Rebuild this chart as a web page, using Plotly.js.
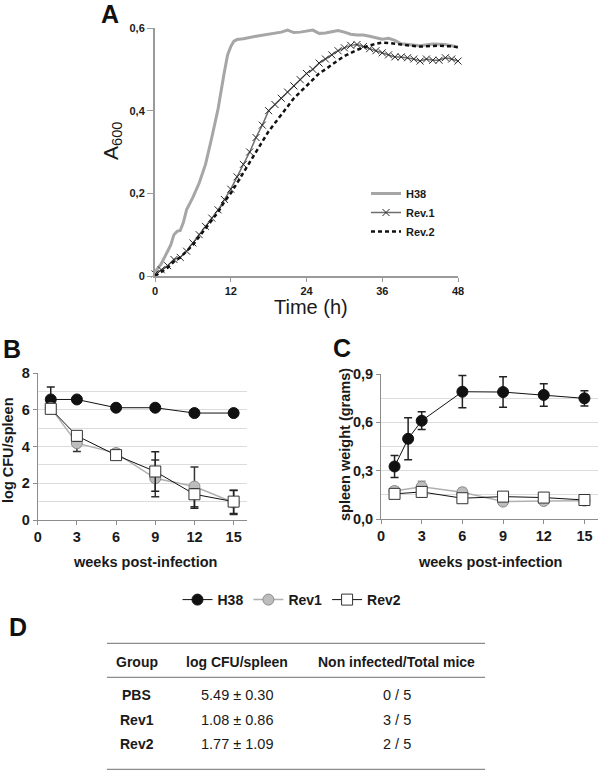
<!DOCTYPE html>
<html><head><meta charset="utf-8">
<script src="https://cdn.plot.ly/plotly-3.0.1.min.js"></script>
<style>html,body{margin:0;padding:0;background:#fff}#chart{width:600px;height:780px}</style>
</head><body><div id="chart"></div>
<script>
// ---------- Panel A : growth curves ----------
const timeH38 = [0,1,2,2.5,3,3.5,4,4.5,5,6,7,8,9,10,11,11.5,12,12.5,13,14,16,18,20,21,22,23,24,25,26,27,28,29,30,31,32,33,34,35,36,37,38,39,40,42,44,46,48];
const a600H38 = [0.01,0.03,0.06,0.075,0.10,0.108,0.11,0.13,0.16,0.19,0.225,0.27,0.335,0.405,0.495,0.535,0.555,0.568,0.572,0.574,0.58,0.585,0.59,0.595,0.589,0.59,0.592,0.595,0.587,0.588,0.591,0.594,0.59,0.585,0.583,0.583,0.58,0.576,0.573,0.575,0.57,0.562,0.56,0.557,0.561,0.56,0.554];
const timeRev = [0,1,2,3,4,5,6,7,8,9,10,11,12,13,14,15,16,17,18,19,20,21,22,23,24,25,26,27,28,29,30,31,32,33,34,35,36,37,38,39,40,41,42,43,44,45,46,47,48];
const a600Rev1 = [0.005,0.015,0.025,0.04,0.045,0.06,0.08,0.10,0.12,0.14,0.16,0.185,0.21,0.24,0.27,0.30,0.335,0.365,0.40,0.415,0.43,0.445,0.46,0.475,0.49,0.50,0.515,0.525,0.535,0.545,0.552,0.558,0.56,0.555,0.55,0.545,0.54,0.535,0.53,0.53,0.528,0.525,0.52,0.525,0.522,0.522,0.528,0.525,0.52];
const a600Rev2 = [0.0,0.01,0.02,0.035,0.045,0.06,0.075,0.095,0.115,0.135,0.155,0.18,0.2,0.225,0.25,0.275,0.30,0.325,0.35,0.37,0.39,0.41,0.43,0.445,0.46,0.475,0.49,0.50,0.512,0.522,0.532,0.54,0.547,0.553,0.558,0.562,0.565,0.564,0.562,0.56,0.558,0.557,0.555,0.556,0.557,0.557,0.556,0.556,0.553];
const growthNames = ['H38','Rev.1','Rev.2'];

// ---------- Panel B : log CFU/spleen ----------
const weeksB = [1,3,6,9,12,15];
const cfuH38 = [6.56,6.56,6.11,6.11,5.82,5.82];
const cfuH38Err = [0.68,0.05,0.05,0.05,0.05,0.05];
const cfuRev1 = [6.1,4.18,3.64,2.27,1.82,0.95];
const cfuRev1ErrUp = [0.2,0.2,0.2,1.0,1.07,0.65];
const cfuRev1ErrDn = [0.2,0.45,0.2,1.0,1.1,0.65];
const cfuRev2 = [6.05,4.58,3.53,2.64,1.4,1.0];
const cfuRev2ErrUp = [0.2,0.2,0.2,1.07,0.3,0.62];
const cfuRev2ErrDn = [0.2,0.3,0.2,1.07,0.76,0.65];

// ---------- Panel C : spleen weight ----------
const weeksCH38 = [1,2,3,6,9,12,15];
const weightH38 = [0.326,0.498,0.61,0.79,0.788,0.77,0.749];
const weightH38Err = [0.068,0.13,0.055,0.1,0.095,0.07,0.047];
const weeksC = [1,3,6,9,12,15];
const weightRev1 = [0.174,0.20,0.166,0.108,0.112,0.114];
const weightRev1Err = [0.025,0.035,0.025,0.01,0.01,0.01];
const weightRev2 = [0.156,0.168,0.129,0.139,0.133,0.118];
const weightRev2Err = [0.02,0.025,0.01,0.01,0.01,0.01];
const strainNames = ['H38','Rev1','Rev2'];

// ---------- Panel D : table ----------
const tableHeader = ['Group','log CFU/spleen','Non infected/Total mice'];
const tableGroup = ['PBS','Rev1','Rev2'];
const tableCFU = ['5.49 ± 0.30','1.08 ± 0.86','1.77 ± 1.09'];
const tableMice = ['0 / 5','3 / 5','2 / 5'];

// ---------- helpers ----------
const W = 600, H = 780;
const px = p => p / W;
const py = p => 1 - p / H;
const FONT = 'Liberation Sans, Arial, sans-serif';
const DARK = '#1a1a1a';

const mkH38 = {symbol:'circle', size:11, color:'#111', line:{color:'#111', width:1}};
const mkRev1 = {symbol:'circle', size:11, color:'#bdbdbd', line:{color:'#8a8a8a', width:1}};
const mkRev2 = {symbol:'square', size:11, color:'#ffffff', line:{color:'#333', width:1}};

const traces = [
  // Panel A
  {x:timeH38, y:a600H38, type:'scatter', mode:'lines', name:growthNames[0], xaxis:'x', yaxis:'y',
   line:{color:'#a6a6a6', width:3}, legend:'legend2', cliponaxis:false},
  {x:timeRev, y:a600Rev1, type:'scatter', mode:'lines+markers', name:growthNames[1], xaxis:'x', yaxis:'y',
   line:{color:'#6e6e6e', width:1.5}, marker:{symbol:'x-thin-open', size:7, color:'#2a2a2a', line:{color:'#2a2a2a', width:1}},
   legend:'legend2', cliponaxis:false},
  {x:timeRev, y:a600Rev2, type:'scatter', mode:'lines', name:growthNames[2], xaxis:'x', yaxis:'y',
   line:{color:'#111', width:2.5, dash:'4px,3px'}, legend:'legend2', cliponaxis:false},
  // Panel B
  {x:weeksB, y:cfuH38, type:'scatter', mode:'lines+markers', name:strainNames[0], xaxis:'x2', yaxis:'y2',
   line:{color:'#111', width:1}, marker:mkH38,
   error_y:{type:'data', array:cfuH38Err, color:'#222', thickness:1.5, width:4}, cliponaxis:false},
  {x:weeksB, y:cfuRev1, type:'scatter', mode:'lines+markers', name:strainNames[1], xaxis:'x2', yaxis:'y2',
   line:{color:'#b0b0b0', width:1.5}, marker:mkRev1,
   error_y:{type:'data', symmetric:false, array:cfuRev1ErrUp, arrayminus:cfuRev1ErrDn, color:'#333', thickness:1.5, width:4}, cliponaxis:false},
  {x:weeksB, y:cfuRev2, type:'scatter', mode:'lines+markers', name:strainNames[2], xaxis:'x2', yaxis:'y2',
   line:{color:'#111', width:1}, marker:mkRev2,
   error_y:{type:'data', symmetric:false, array:cfuRev2ErrUp, arrayminus:cfuRev2ErrDn, color:'#222', thickness:1.5, width:4}, cliponaxis:false},
  // Panel C
  {x:weeksCH38, y:weightH38, type:'scatter', mode:'lines+markers', name:strainNames[0], xaxis:'x3', yaxis:'y3',
   line:{color:'#111', width:1}, marker:mkH38, showlegend:false,
   error_y:{type:'data', array:weightH38Err, color:'#222', thickness:1.5, width:4}, cliponaxis:false},
  {x:weeksC, y:weightRev1, type:'scatter', mode:'lines+markers', name:strainNames[1], xaxis:'x3', yaxis:'y3',
   line:{color:'#b0b0b0', width:1.5}, marker:mkRev1, showlegend:false,
   error_y:{type:'data', array:weightRev1Err, color:'#9a9a9a', thickness:1.5, width:4}, cliponaxis:false},
  {x:weeksC, y:weightRev2, type:'scatter', mode:'lines+markers', name:strainNames[2], xaxis:'x3', yaxis:'y3',
   line:{color:'#111', width:1}, marker:mkRev2, showlegend:false,
   error_y:{type:'data', array:weightRev2Err, color:'#222', thickness:1.5, width:4}, cliponaxis:false}
];

const tickBold = s => ({family:FONT, size:s, color:DARK, weight:'bold'});
const smallAxis = {
  showline:true, linecolor:'#8c8c8c', linewidth:1, ticks:'outside', ticklen:4, tickcolor:'#8c8c8c',
  zeroline:false, tickfont:tickBold(14.5), fixedrange:true
};

const layout = {
  width:W, height:H, margin:{l:0, r:0, t:0, b:0},
  paper_bgcolor:'#fff', plot_bgcolor:'rgba(0,0,0,0)',
  separators:',.',
  font:{family:FONT, color:DARK},
  xaxis:{domain:[px(155), px(458)], range:[0,48], tickvals:[0,12,24,36,48], anchor:'y',
         showline:true, linecolor:'#9a9a9a', linewidth:2, ticks:'outside', ticklen:4, tickcolor:'#9a9a9a',
         showgrid:false, zeroline:false, tickfont:tickBold(11)},
  yaxis:{domain:[py(276), py(28)], range:[0,0.6], dtick:0.2, anchor:'x',
         showline:true, linecolor:'#9a9a9a', linewidth:2, ticks:'outside', ticklen:6, tickcolor:'#9a9a9a',
         showgrid:false, zeroline:false, tickfont:tickBold(11)},
  xaxis2:Object.assign({}, smallAxis, {domain:[px(37.7), px(246.7)], range:[0,16], tickvals:[0,3,6,9,12,15], anchor:'y2', showgrid:false}),
  yaxis2:Object.assign({}, smallAxis, {domain:[py(520), py(373)], range:[0,8], dtick:2, anchor:'x2',
         showgrid:true, gridcolor:'#dcdcdc', gridwidth:1,
         minor:{dtick:1, showgrid:true, gridcolor:'#dcdcdc', gridwidth:1, ticks:''}}),
  xaxis3:Object.assign({}, smallAxis, {domain:[px(381), px(598)], range:[0,16], tickvals:[0,3,6,9,12,15], anchor:'y3', showgrid:false}),
  yaxis3:Object.assign({}, smallAxis, {domain:[py(519), py(374)], range:[0,0.9], dtick:0.3, tickformat:'.1f', anchor:'x3',
         showgrid:true, gridcolor:'#dcdcdc', gridwidth:1,
         minor:{dtick:0.15, showgrid:true, gridcolor:'#dcdcdc', gridwidth:1, ticks:''}}),
  legend:{orientation:'h', x:px(292), xanchor:'center', y:py(600), yanchor:'middle',
          font:{family:FONT, size:14, color:DARK, weight:'bold'}, bgcolor:'rgba(0,0,0,0)', itemwidth:30},
  legend2:{x:px(366), xanchor:'left', y:py(179), yanchor:'top', tracegroupgap:0,
          font:{family:FONT, size:11, color:DARK, weight:'bold'}, bgcolor:'rgba(0,0,0,0)', itemwidth:30},
  annotations:[],
  shapes:[]
};

const ann = (text, x, y, opts) => layout.annotations.push(Object.assign({
  text:text, x:px(x), y:py(y), xref:'paper', yref:'paper', showarrow:false,
  xanchor:'center', yanchor:'middle', font:{family:FONT, size:14, color:DARK}
}, opts || {}));

// panel letters
const letterFont = {family:FONT, size:25, color:'#111', weight:'bold'};
ann('A', 110, 14, {font:letterFont});
ann('B', 12, 349, {font:letterFont});
ann('C', 342, 348, {font:letterFont});
ann('D', 18, 627, {font:letterFont});

// axis titles
ann('Time (h)', 311, 307, {font:{family:FONT, size:20, color:DARK}});
ann('A<sub>600</sub>', 112, 141, {textangle:-90, font:{family:FONT, size:21, color:DARK}});
const axTitleFont = {family:FONT, size:14.5, color:DARK, weight:'bold'};
ann('log CFU/spleen', 8, 450, {textangle:-90, font:axTitleFont});
ann('spleen weight (grams)', 345, 445, {textangle:-90, font:axTitleFont});
ann('weeks post-infection', 145, 562, {font:axTitleFont});
ann('weeks post-infection', 490, 562, {font:axTitleFont});

// table D
const colX = [136.7, 237.3, 396.7];
const headerY = 661.7;
const rowY = [695, 720, 744.3];
const boldF = {family:FONT, size:14, color:DARK, weight:'bold'};
const regF = {family:FONT, size:14.5, color:DARK};
tableHeader.forEach((h, i) => ann(h, colX[i], headerY, {font:boldF}));
tableGroup.forEach((g, r) => {
  ann(g, colX[0], rowY[r], {font:boldF});
  ann(tableCFU[r], colX[1], rowY[r], {font:regF});
  ann(tableMice[r], colX[2], rowY[r], {font:regF});
});
[643.3, 677.3, 769.3].forEach(yy => layout.shapes.push({
  type:'line', xref:'paper', yref:'paper', x0:px(107), x1:px(485), y0:py(yy), y1:py(yy),
  line:{color:'#8c8c8c', width:1.3}
}));

Plotly.newPlot('chart', traces, layout, {staticPlot:true, displayModeBar:false});
</script>
</body></html>
